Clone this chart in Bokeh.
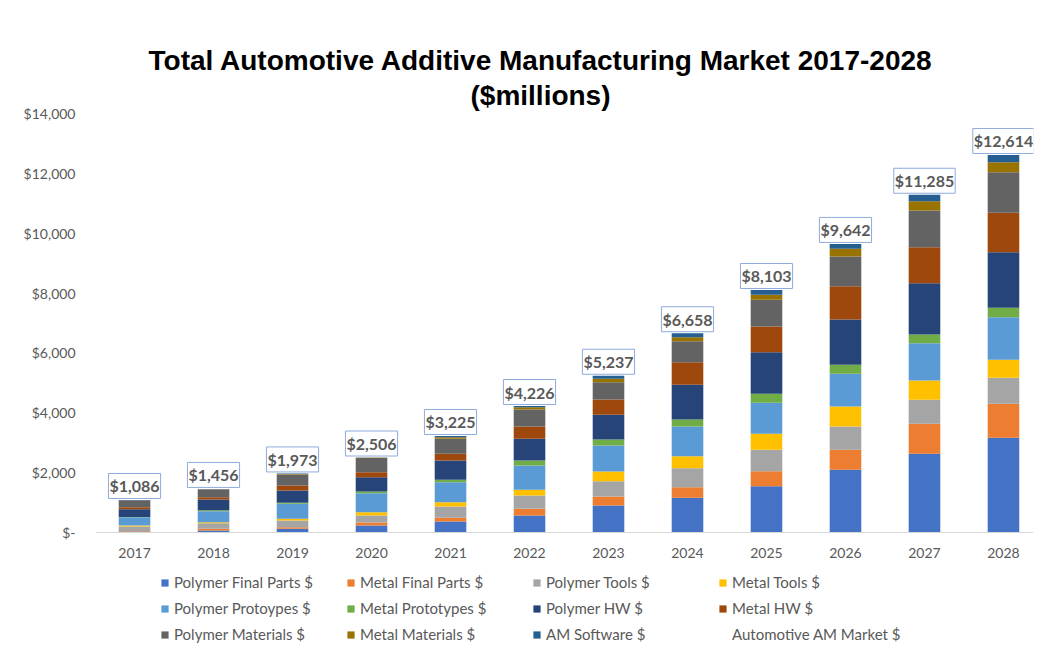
from bokeh.plotting import figure
from bokeh.models import (ColumnDataSource, FixedTicker, Legend, LegendItem,
                          Label, Title, Range1d)
from bokeh.embed import file_html
from bokeh.resources import INLINE

years = [2017, 2018, 2019, 2020, 2021, 2022, 2023, 2024, 2025, 2026, 2027, 2028]

polymer_final_parts = [30, 70, 123, 234, 368, 568, 902, 1159, 1547, 2095, 2629, 3164]
metal_final_parts = [20, 57, 54, 100, 122, 223, 301, 355, 501, 668, 1002, 1136]
polymer_tools = [150, 184, 224, 234, 379, 445, 511, 634, 715, 779, 803, 868]
metal_tools = [34, 33, 56, 111, 144, 191, 324, 401, 535, 668, 644, 602]
polymer_prototypes = [277, 368, 502, 634, 668, 812, 869, 993, 1035, 1092, 1247, 1424]
metal_prototypes = [10, 33, 33, 57, 80, 167, 200, 233, 301, 301, 290, 313]
polymer_hw = [257, 358, 411, 478, 645, 724, 825, 1159, 1390, 1514, 1715, 1859]
metal_hw = [67, 77, 167, 167, 223, 412, 512, 756, 859, 1112, 1202, 1315]
polymer_materials = [230, 257, 368, 481, 501, 568, 578, 702, 892, 993, 1226, 1358]
metal_materials = [6, 11, 20, 6, 56, 77, 113, 133, 167, 257, 311, 334]
am_software = [5, 8, 15, 4, 39, 39, 102, 133, 161, 163, 216, 241]
automotive_am_market = [1086, 1456, 1973, 2506, 3225, 4226, 5237, 6658, 8103, 9642, 11285, 12614]

series_names = ["Polymer Final Parts $", "Metal Final Parts $", "Polymer Tools $", "Metal Tools $",
                "Polymer Protoypes $", "Metal Prototypes $", "Polymer HW $", "Metal HW $",
                "Polymer Materials $", "Metal Materials $", "AM Software $"]
series_values = [polymer_final_parts, metal_final_parts, polymer_tools, metal_tools,
                 polymer_prototypes, metal_prototypes, polymer_hw, metal_hw,
                 polymer_materials, metal_materials, am_software]
colors = ["#4472C4", "#ED7D31", "#A5A5A5", "#FFC000", "#5B9BD5", "#70AD47",
          "#264478", "#9E480E", "#636363", "#997300", "#255E91"]

y_ticks = [0, 2000, 4000, 6000, 8000, 10000, 12000, 14000]

keys = ["s%d" % i for i in range(len(series_names))]
data = {"year": years, "total": automotive_am_market}
for k, vals in zip(keys, series_values):
    data[k] = vals
src = ColumnDataSource(data)

# frame extends below zero so the legend can sit inside it; the x axis is pinned at y=0
p = figure(frame_width=938, frame_height=533, output_backend="svg", toolbar_location=None,
           x_range=Range1d(2016.506, 2028.38), y_range=Range1d(-3809, 14000),
           min_border_left=95, min_border_right=8, min_border_top=113, min_border_bottom=0)

p.title.text = "Total Automotive Additive Manufacturing Market 2017-2028"
p.title.text_font = "Liberation Sans"
p.title.text_font_size = "28px"
p.title.text_font_style = "bold"
p.title.text_color = "#000000"
p.title.align = "left"
p.title.standoff = 0
p.title.offset = 53

sub = Title(text="($millions)", text_font="Liberation Sans", text_font_size="28px",
            text_font_style="bold", text_color="#000000", align="left", standoff=5, offset=375)
p.add_layout(sub, "above")

renderers = p.vbar_stack(keys, x="year", width=0.4, source=src, color=colors, line_color=None)

inv = p.scatter(x="year", y="total", source=src, size=1, fill_alpha=0, line_alpha=0)

for yr, tot in zip(years, automotive_am_market):
    p.add_layout(Label(x=yr, y=tot, text="${:,}".format(tot), text_align="center",
                       text_baseline="middle", y_offset=14, text_font="Lato",
                       text_font_size="16px", text_font_style="bold", text_color="#595959",
                       background_fill_color="white", border_line_color="#8FAADC",
                       border_line_width=1, padding=(1, 3)))

p.xgrid.visible = False
p.ygrid.visible = False
p.outline_line_color = None

p.xaxis.fixed_location = 0
p.xaxis.ticker = FixedTicker(ticks=years)
p.xaxis.axis_line_color = "#D9D9D9"
p.xaxis.major_tick_line_color = None
p.xaxis.minor_tick_line_color = None
p.xaxis.major_tick_out = 0
p.xaxis.major_label_text_font = "Lato"
p.xaxis.major_label_text_font_size = "14px"
p.xaxis.major_label_text_color = "#595959"
p.xaxis.major_label_standoff = 15

p.yaxis.ticker = FixedTicker(ticks=y_ticks)
p.yaxis.major_label_overrides = {t: ("$-" if t == 0 else "${:,}".format(t)) for t in y_ticks}
p.yaxis.axis_line_color = None
p.yaxis.major_tick_line_color = None
p.yaxis.minor_tick_line_color = None
p.yaxis.major_tick_out = 0
p.yaxis.major_label_text_font = "Lato"
p.yaxis.major_label_text_font_size = "14px"
p.yaxis.major_label_text_color = "#595959"
p.yaxis.major_label_standoff = 20

items = [LegendItem(label=n, renderers=[r]) for n, r in zip(series_names, renderers)]
items.append(LegendItem(label="Automotive AM Market $", renderers=[inv]))
legend = Legend(items=items, orientation="horizontal", ncols=4, location=(65, 3),
                label_text_font="Lato", label_text_font_size="15px", label_text_color="#595959",
                glyph_width=9, glyph_height=9, label_width=164, label_height=18,
                label_standoff=5, spacing=8, padding=0, margin=0,
                border_line_color=None, background_fill_alpha=0)
p.add_layout(legend, "center")

open("out.html", "w").write(file_html(p, INLINE))
